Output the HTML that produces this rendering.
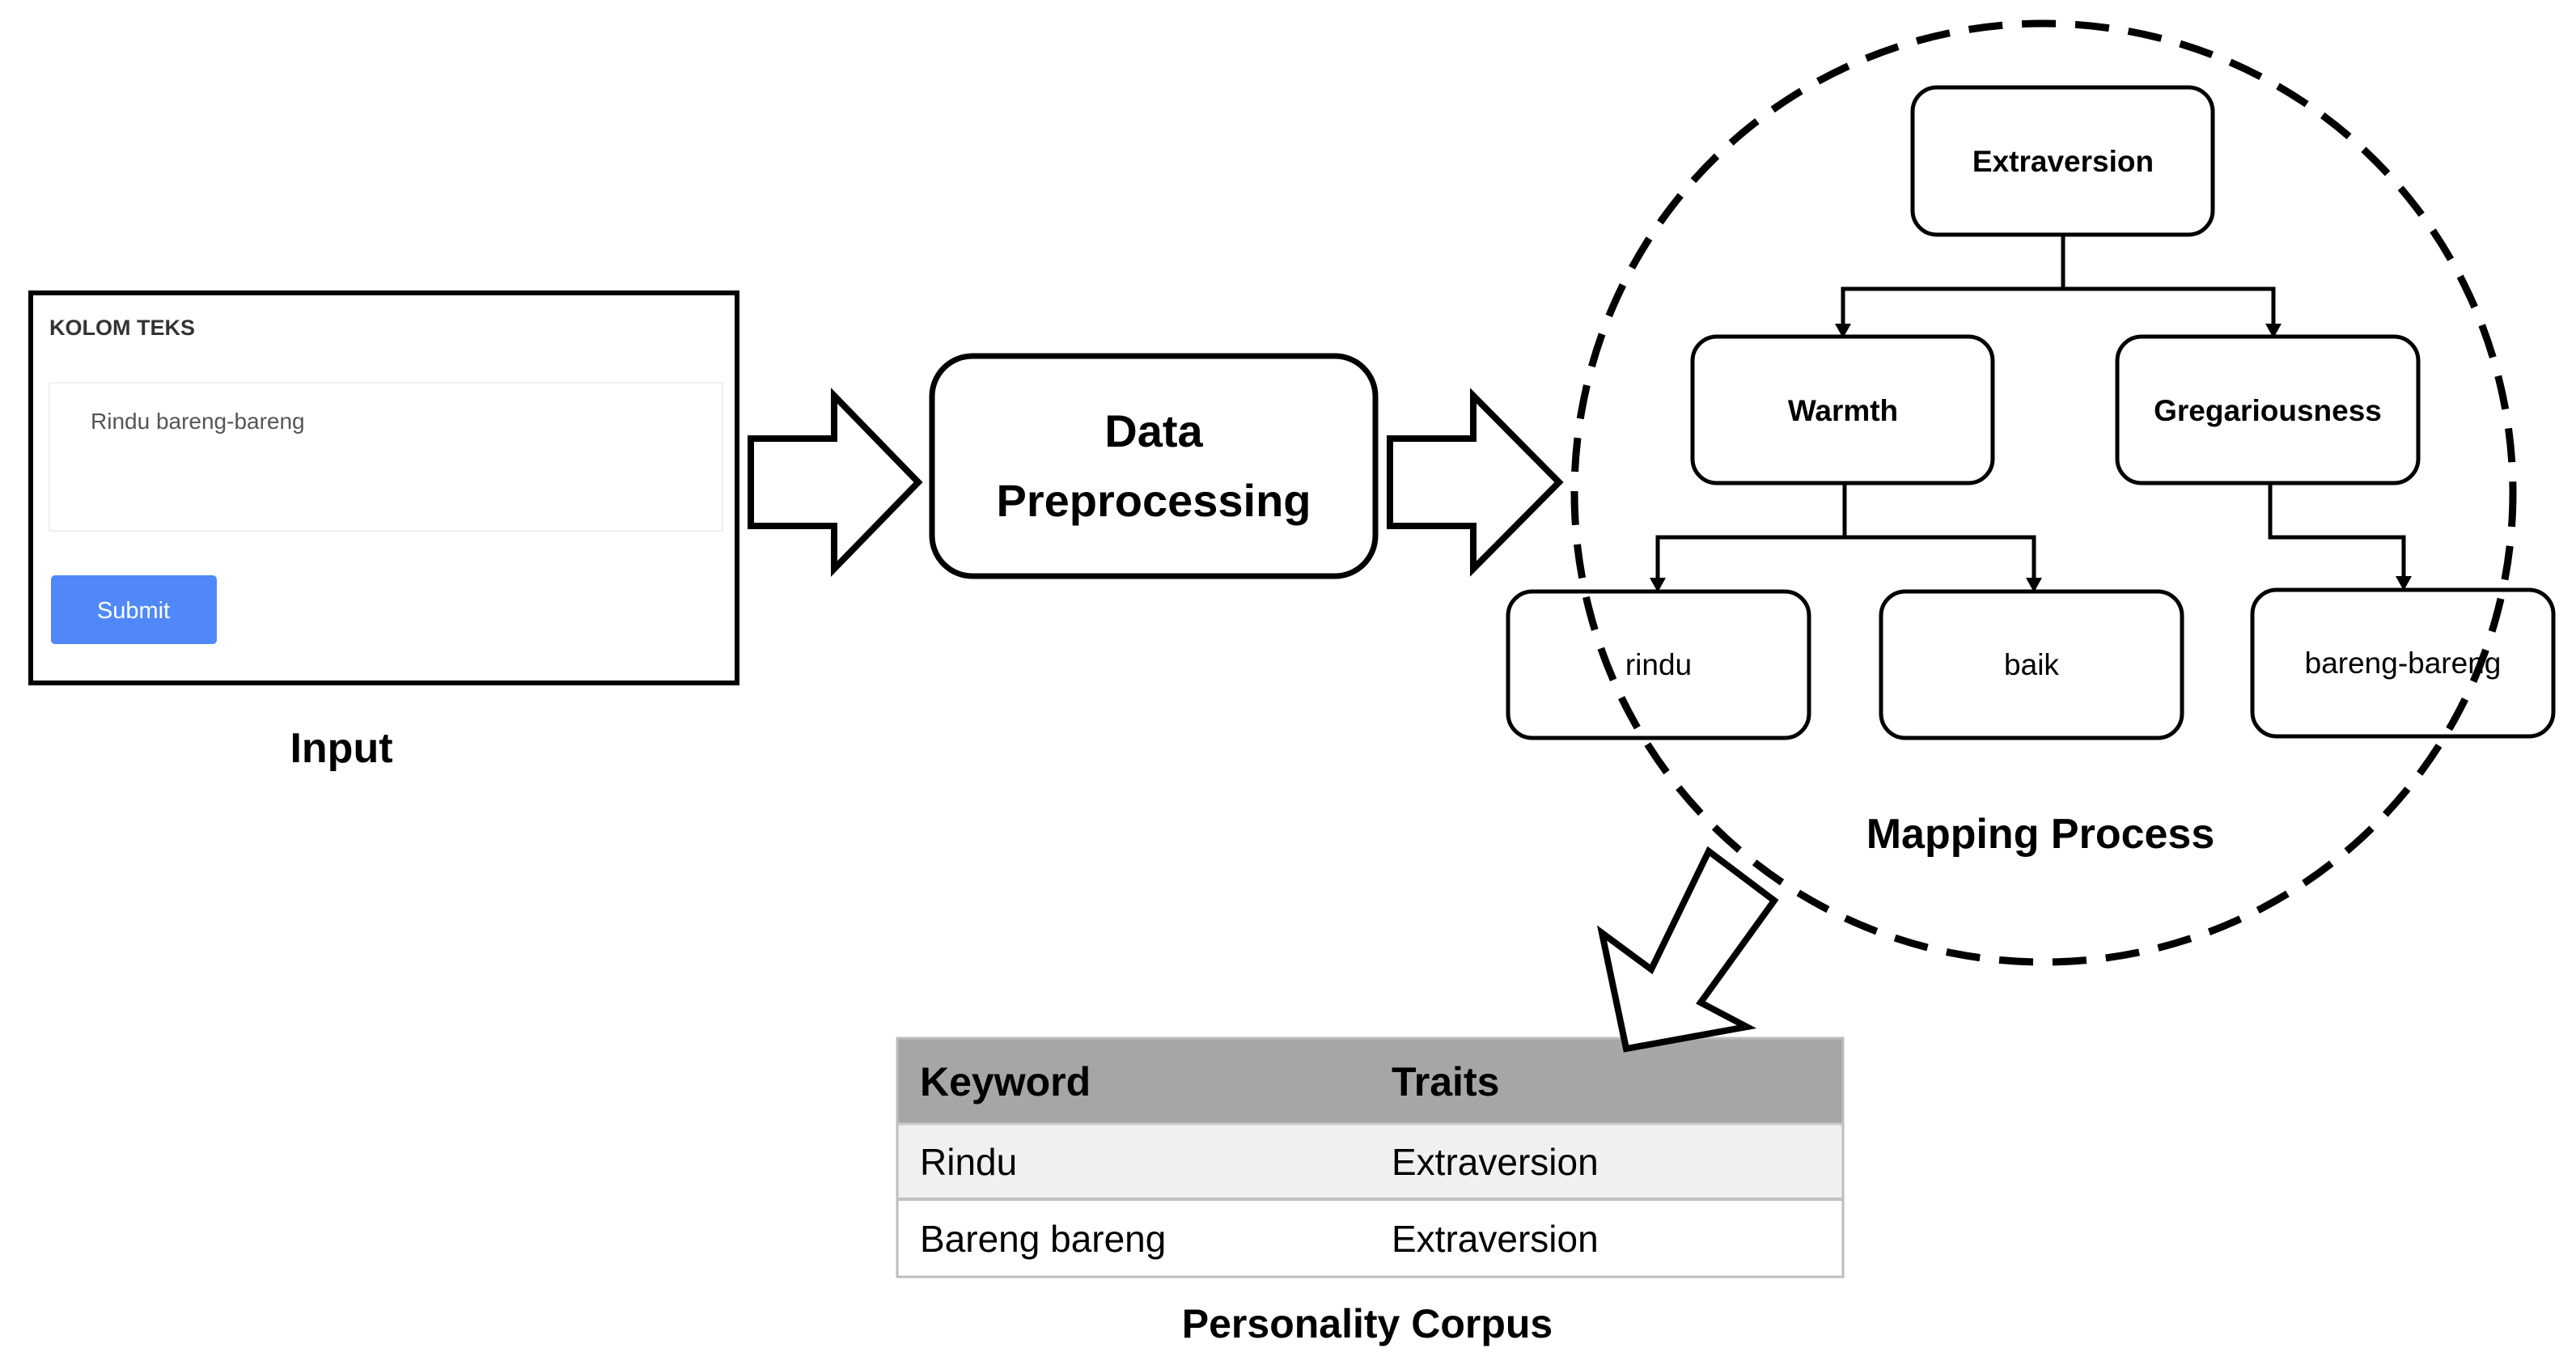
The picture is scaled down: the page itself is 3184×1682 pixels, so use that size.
<!DOCTYPE html>
<html><head><meta charset="utf-8"><style>
html,body{margin:0;padding:0;background:#fff;}
svg{display:block;}
</style></head><body>
<svg width="3184" height="1682" viewBox="0 0 3184 1682" xmlns="http://www.w3.org/2000/svg" font-family="Liberation Sans, sans-serif">
<!-- Input box -->
<rect x="38" y="362" width="873" height="482" fill="#fff" stroke="#000" stroke-width="6"/>
<text x="61" y="414" font-size="27" font-weight="bold" fill="#333">KOLOM TEKS</text>
<rect x="61" y="473" width="832" height="183" fill="#fff" stroke="#f0f0f0" stroke-width="2"/>
<text x="112" y="530" font-size="28" fill="#555">Rindu bareng-bareng</text>
<rect x="63" y="711" width="205" height="85" rx="5" fill="#5088f8"/>
<text x="165" y="764" font-size="29" fill="#fff" text-anchor="middle">Submit</text>
<text x="422" y="942" font-size="52" font-weight="bold" text-anchor="middle">Input</text>

<!-- Arrow 1 -->
<polygon points="928,542 1031,542 1031,489 1135,596 1031,703 1031,650 928,650" fill="#fff" stroke="#000" stroke-width="8" stroke-linejoin="miter"/>
<!-- Data preprocessing -->
<rect x="1152" y="440" width="548" height="272" rx="50" fill="#fff" stroke="#000" stroke-width="7"/>
<text x="1426" y="552" font-size="56" font-weight="bold" text-anchor="middle">Data</text>
<text x="1426" y="638" font-size="56" font-weight="bold" text-anchor="middle">Preprocessing</text>
<!-- Arrow 2 -->
<polygon points="1718,542 1821,542 1821,489 1927,596 1821,703 1821,650 1718,650" fill="#fff" stroke="#000" stroke-width="8"/>

<!-- Tree boxes -->
<g fill="#fff" stroke="#000" stroke-width="5">
<rect x="2364" y="108" width="371" height="182" rx="30"/>
<rect x="2092" y="416" width="371" height="181" rx="30"/>
<rect x="2617" y="416" width="372" height="181" rx="30"/>
<rect x="1864" y="731" width="372" height="181" rx="30"/>
<rect x="2325" y="731" width="372" height="181" rx="30"/>
<rect x="2784" y="729" width="372" height="181" rx="30"/>
</g>
<!-- connectors -->
<g fill="none" stroke="#000" stroke-width="5">
<polyline points="2550,290 2550,357 2278,357 2278,405"/>
<polyline points="2550,357 2810,357 2810,405"/>
<polyline points="2280,597 2280,664 2049,664 2049,720"/>
<polyline points="2280,664 2514,664 2514,720"/>
<polyline points="2806,597 2806,664 2971,664 2971,718"/>
</g>
<g fill="#000">
<polygon points="2268,400 2288,400 2278,418"/>
<polygon points="2800,400 2820,400 2810,418"/>
<polygon points="2039,714 2059,714 2049,732"/>
<polygon points="2504,714 2524,714 2514,732"/>
<polygon points="2961,712 2981,712 2971,730"/>
</g>
<g font-size="37" text-anchor="middle">
<text x="2550" y="212" font-weight="bold">Extraversion</text>
<text x="2278" y="520" font-weight="bold">Warmth</text>
<text x="2803" y="520" font-weight="bold">Gregariousness</text>
<text x="2050" y="834">rindu</text>
<text x="2511" y="834">baik</text>
<text x="2970" y="832">bareng-bareng</text>
</g>
<!-- dashed circle -->
<circle cx="2526" cy="609" r="580" fill="none" stroke="#000" stroke-width="9" stroke-dasharray="42,24"/>
<text x="2522" y="1048" font-size="52" font-weight="bold" text-anchor="middle">Mapping Process</text>

<!-- Table -->
<rect x="1109" y="1283" width="1169" height="106" fill="#a6a6a6"/>
<rect x="1109" y="1389" width="1169" height="93" fill="#f0f0f0"/>
<rect x="1109" y="1482" width="1169" height="96" fill="#fff"/>
<rect x="1109" y="1283" width="1169" height="295" fill="none" stroke="#bdbdbd" stroke-width="3"/>
<line x1="1109" y1="1389" x2="2278" y2="1389" stroke="#c8c8c8" stroke-width="3"/>
<line x1="1109" y1="1482" x2="2278" y2="1482" stroke="#c0c0c0" stroke-width="4"/>
<g font-size="50">
<text x="1137" y="1354" font-weight="bold">Keyword</text>
<text x="1720" y="1354" font-weight="bold">Traits</text>
<text x="1137" y="1452" font-size="46">Rindu</text>
<text x="1720" y="1452" font-size="46">Extraversion</text>
<text x="1137" y="1547" font-size="46">Bareng bareng</text>
<text x="1720" y="1547" font-size="46">Extraversion</text>
</g>
<text x="1690" y="1653" font-size="50" font-weight="bold" text-anchor="middle">Personality Corpus</text>

<!-- Down arrow (on top of table) -->
<polygon points="2112,1052 2193,1113 2102,1239 2159,1269 2010,1296 1980,1153 2041,1198" fill="#fff" stroke="#000" stroke-width="8"/>
</svg>
</body></html>
